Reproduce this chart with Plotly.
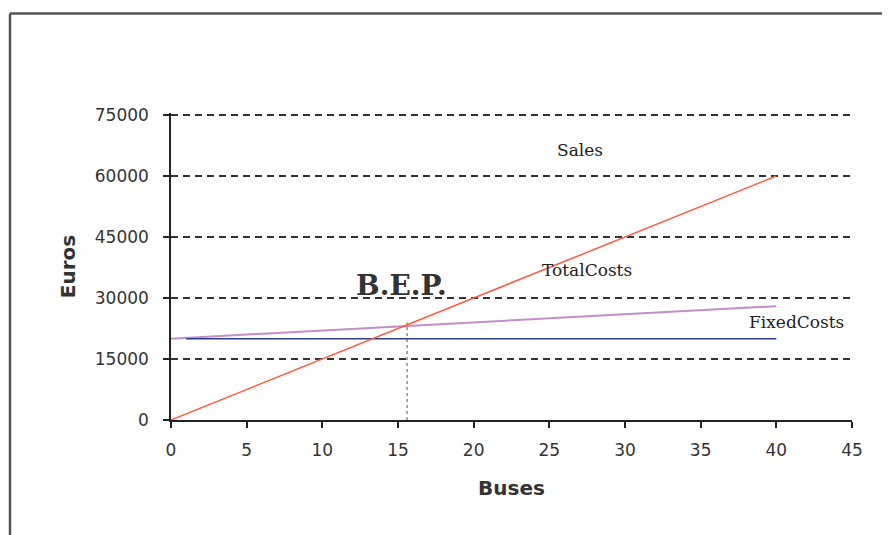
import plotly.graph_objects as go

# Data
sales_x = [0, 40]
sales_y = [0, 60000]
total_x = [0, 40]
total_y = [20000, 28000]
fixed_x = [1, 40]
fixed_y = [20000, 20000]
bep_x = [15.6, 15.6]
bep_y = [0, 24000]
x_ticks = [0, 5, 10, 15, 20, 25, 30, 35, 40, 45]
y_ticks = [0, 15000, 30000, 45000, 60000, 75000]
y_ticktext = ["0", "15000", "30000", "45000", "60000", "75000"]

fig = go.Figure()
fig.add_trace(go.Scatter(x=total_x, y=total_y, mode="lines",
                         line=dict(color="#C58CCB", width=2), name="TotalCosts"))
fig.add_trace(go.Scatter(x=fixed_x, y=fixed_y, mode="lines",
                         line=dict(color="#2B3A8F", width=1.5), name="FixedCosts"))
fig.add_trace(go.Scatter(x=sales_x, y=sales_y, mode="lines",
                         line=dict(color="#FF5A3C", width=1.5), name="Sales"))
fig.add_trace(go.Scatter(x=bep_x, y=bep_y, mode="lines",
                         line=dict(color="#555555", width=1, dash="dot"), name="BEP"))

sans = "DejaVu Sans, Verdana, Arial"
tickfont = dict(family=sans, size=17, color="#333333")
fig.update_layout(
    width=882, height=527,
    margin=dict(l=163, r=38, t=105, b=115),
    paper_bgcolor="white", plot_bgcolor="white",
    showlegend=False,
    xaxis=dict(range=[0, 45], tickvals=x_ticks, showgrid=False, zeroline=False,
               automargin=False,
               showline=True, linecolor="#222", linewidth=1.5,
               ticks="outside", ticklen=6, tickcolor="#222", tickwidth=1.5,
               tickfont=tickfont, ticklabelstandoff=8,
               title=dict(text="<b>Buses</b>", font=dict(family=sans, size=20, color="#333"),
                          standoff=22)),
    yaxis=dict(range=[0, 75500], tickvals=y_ticks, ticktext=y_ticktext,
               showgrid=True, gridcolor="#333",
               griddash="7px,5px", gridwidth=1.5, zeroline=False,
               automargin=False,
               showline=True, linecolor="#222", linewidth=1.5,
               ticks="outside", ticklen=6, tickcolor="#222", tickwidth=1.5,
               tickfont=tickfont, ticklabelstandoff=11,
               title=dict(text="<b>Euros</b>", font=dict(family=sans, size=20, color="#333"),
                          standoff=14)),
)

serif = "DejaVu Serif, Liberation Serif, Times New Roman"
fig.add_annotation(x=27, y=66500, text="Sales", showarrow=False,
                   font=dict(family=serif, size=17, color="#222"))
fig.add_annotation(x=27.5, y=37000, text="TotalCosts", showarrow=False,
                   font=dict(family=serif, size=17, color="#222"))
fig.add_annotation(x=41.3, y=24200, text="FixedCosts", showarrow=False,
                   font=dict(family=serif, size=17, color="#222"))
fig.add_annotation(x=15.2, y=33000, text="<b>B.E.P.</b>", showarrow=False,
                   font=dict(family=serif, size=28, color="#333"))

# outer frame (top and left border of the original image box)
fig.add_shape(type="line", xref="paper", yref="paper", x0=-0.2364, x1=1.1,
              y0=1.324, y1=1.324, line=dict(color="#555", width=2.5))
fig.add_shape(type="line", xref="paper", yref="paper", x0=-0.2364, x1=-0.2364,
              y0=1.324, y1=-0.5, line=dict(color="#555", width=2.5))

fig.write_html("out.html")
